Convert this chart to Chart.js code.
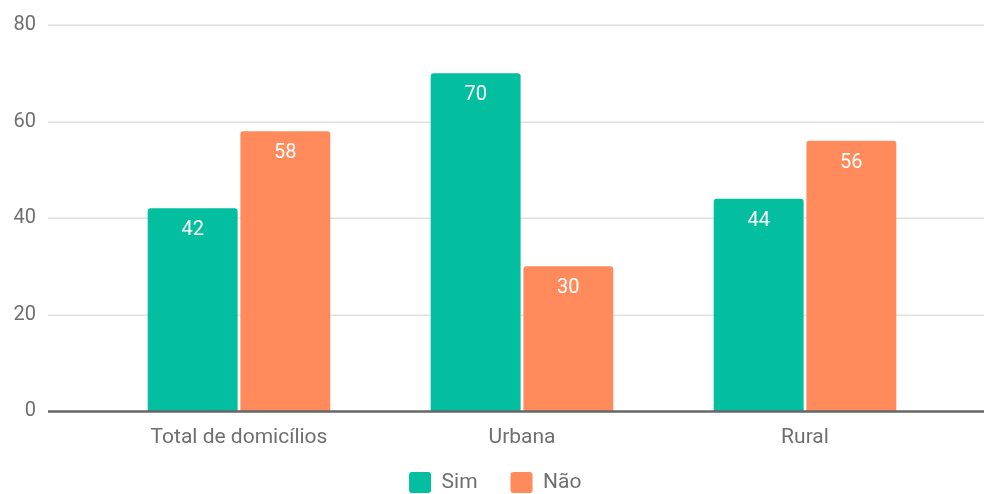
<!DOCTYPE html>
<html>
<head>
<meta charset="utf-8">
<script src="https://cdn.jsdelivr.net/npm/chart.js@4.4.0/dist/chart.umd.min.js"></script>
<style>
  html, body { margin: 0; padding: 0; background: #ffffff; }
  #wrap { width: 985px; height: 494px; }
</style>
</head>
<body>
<div id="wrap"><canvas id="c" width="985" height="494"></canvas></div>
<script>
const categories = ["Total de domicílios", "Urbana", "Rural"];
const simValues = [42, 70, 44];
const naoValues = [58, 30, 56];
const seriesNames = ["Sim", "Não"];
const yTicks = [0, 20, 40, 60, 80];

const FONT = "Roboto, 'Noto Sans', sans-serif";
const TEXT = '#6f6f6f';

const gridPlugin = {
  id: 'extGrid',
  afterLayout(chart) {
    // let x tick labels draw below the (thin) axis box
    chart.scales.x.bottom = chart.height;
    // place legend row
    const L = chart.legend;
    if (L) {
      const dy = 472 - (L.top + L.options.labels.padding);
      L.top += dy; L.bottom += dy;
      L.left += 22; L.right += 22;
    }
  },
  beforeDatasetsDraw(chart) {
    const ctx = chart.ctx, y = chart.scales.y;
    ctx.save();
    ctx.strokeStyle = '#e0e0e0';
    ctx.lineWidth = 1.5;
    yTicks.forEach(v => {
      if (v === 0) return;
      const py = Math.round(y.getPixelForValue(v)) + 0.25;
      ctx.beginPath(); ctx.moveTo(48, py); ctx.lineTo(984, py); ctx.stroke();
    });
    ctx.restore();
  },
  afterDatasetsDraw(chart) {
    const ctx = chart.ctx, y = chart.scales.y;
    ctx.save();
    ctx.fillStyle = '#ffffff';
    ctx.font = '400 20px ' + FONT;
    ctx.textAlign = 'center';
    ctx.textBaseline = 'middle';
    chart.data.datasets.forEach((ds, di) => {
      chart.getDatasetMeta(di).data.forEach((bar, i) => {
        ctx.fillText(String(ds.data[i]), bar.x, bar.y + 22);
      });
    });
    ctx.strokeStyle = '#666666';
    ctx.lineWidth = 2.5;
    const py = y.getPixelForValue(0) + 0.5;
    ctx.beginPath(); ctx.moveTo(48, py); ctx.lineTo(984, py); ctx.stroke();
    ctx.restore();
  }
};

new Chart(document.getElementById('c'), {
  type: 'bar',
  data: {
    labels: categories,
    datasets: [
      { label: seriesNames[0], data: simValues, backgroundColor: '#03BF9F', borderRadius: 3, borderSkipped: 'bottom',
        categoryPercentage: 0.655, barPercentage: 0.97 },
      { label: seriesNames[1], data: naoValues, backgroundColor: '#FF8A5B', borderRadius: 3, borderSkipped: 'bottom',
        categoryPercentage: 0.655, barPercentage: 0.97 }
    ]
  },
  options: {
    responsive: false,
    animation: false,
    devicePixelRatio: 1,
    layout: { padding: { left: 0, right: 38.5, top: 25, bottom: 0 } },
    plugins: {
      tooltip: { enabled: false },
      legend: {
        position: 'bottom',
        labels: {
          boxWidth: 22, boxHeight: 21, padding: 33,
          useBorderRadius: true, borderRadius: 3,
          color: TEXT,
          font: { family: FONT, size: 21 }
        }
      }
    },
    scales: {
      x: {
        grid: { display: false, drawTicks: false },
        border: { display: false },
        ticks: { color: TEXT, font: { family: FONT, size: 21 }, padding: 14, maxRotation: 0, autoSkip: false },
        afterFit(s) { s.height = Math.max(0, 83 - (s.chart.legend ? s.chart.legend.height : 0)); }
      },
      y: {
        min: 0, max: 80,
        grid: { display: false, drawTicks: false },
        border: { display: false },
        afterBuildTicks(s) { s.ticks = yTicks.map(v => ({ value: v })); },
        ticks: { color: TEXT, font: { family: FONT, size: 20 }, padding: 61.5 },
        afterFit(s) { s.width = 97.5; s.paddingTop = 0; s.paddingBottom = 0; }
      }
    }
  },
  plugins: [gridPlugin]
});
</script>
</body>
</html>
